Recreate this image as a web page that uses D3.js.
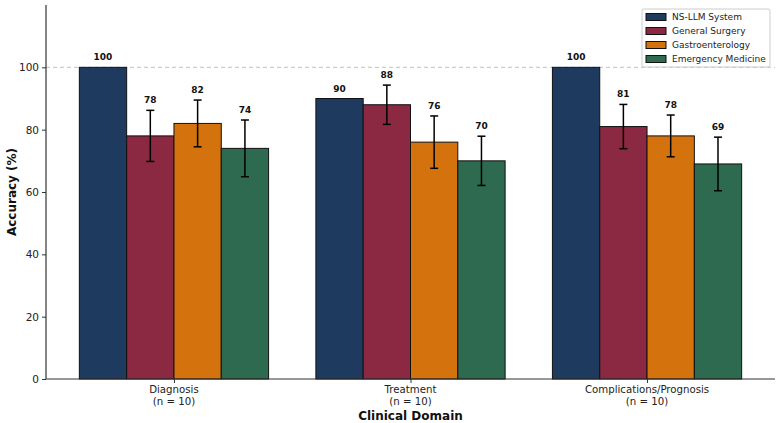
<!DOCTYPE html>
<html><head><meta charset="utf-8">
<script src="https://cdn.jsdelivr.net/npm/d3@7"></script>
<style>body{margin:0;background:#fff}svg{display:block;font-family:"DejaVu Sans",sans-serif}</style>
</head><body><svg id="c" width="779" height="423"></svg>
<script>
const categories = ["Diagnosis", "Treatment", "Complications/Prognosis"];
const categorySub = ["(n = 10)", "(n = 10)", "(n = 10)"];
const series = ["NS-LLM System", "General Surgery", "Gastroenterology", "Emergency Medicine"];
const colors = ["#1f3a5f", "#8b2942", "#d4730e", "#2d6a4f"];
const nsllm = [100, 90, 100];
const generalSurgery = [78, 88, 81];
const gastro = [82, 76, 78];
const emergency = [74, 70, 69];
const nsllmErr = [0, 0, 0];
const gsErr = [8.2, 6.3, 7.1];
const gastroErr = [7.5, 8.4, 6.7];
const emErr = [9.1, 7.9, 8.6];
const yTicks = [0, 20, 40, 60, 80, 100];

(function () {
const values = [nsllm, generalSurgery, gastro, emergency];
const errs = [nsllmErr, gsErr, gastroErr, emErr];

const svg = d3.select("#c");
const mL = 46, mR = 775, mT = 5, mB = 379;
const x = d3.scaleLinear().domain([-0.541, 2.541]).range([mL, mR]);
const y = d3.scaleLinear().domain([0, 120]).range([mB, mT]);
const bw = 0.2;

svg.append("line").attr("x1", mL).attr("x2", mR).attr("y1", y(100)).attr("y2", y(100))
  .attr("stroke", "#b0b0b0").attr("stroke-width", 0.8).attr("stroke-dasharray", "4,3");

const g = svg.append("g");
series.forEach((s, si) => {
  categories.forEach((c, ci) => {
    const xc = ci + (si - 1.5) * bw;
    const v = values[si][ci];
    g.append("rect").attr("x", x(xc - bw / 2)).attr("width", x(xc + bw / 2) - x(xc - bw / 2))
      .attr("y", y(v)).attr("height", y(0) - y(v))
      .attr("fill", colors[si]).attr("stroke", "#111").attr("stroke-width", 1);
    const e = errs[si][ci];
    const px = x(xc);
    if (e > 0) {
      g.append("line").attr("x1", px).attr("x2", px).attr("y1", y(v - e)).attr("y2", y(v + e)).attr("stroke", "#000").attr("stroke-width", 1.5);
      [v - e, v + e].forEach(t => g.append("line").attr("x1", px - 4).attr("x2", px + 4).attr("y1", y(t)).attr("y2", y(t)).attr("stroke", "#000").attr("stroke-width", 1.5));
    }
    g.append("text").attr("x", px).attr("y", y(v + e) - 7).attr("text-anchor", "middle")
      .attr("font-size", 9).attr("font-weight", "bold").attr("fill", "#111").text(v);
  });
});

const ya = svg.append("g").attr("transform", `translate(${mL},0)`)
  .call(d3.axisLeft(y).tickValues(yTicks).tickSize(4).tickPadding(3));
ya.select(".domain").attr("d", `M0,${mT}V${mB}`).attr("stroke", "#333").attr("stroke-width", 1.2);
ya.selectAll("text").attr("font-size", 10.5).attr("fill", "#222").attr("font-family", "DejaVu Sans");
ya.selectAll(".tick line").attr("stroke", "#333");

const xa = svg.append("g").attr("transform", `translate(0,${mB})`)
  .call(d3.axisBottom(x).tickValues([0, 1, 2]).tickSize(4).tickFormat(""));
xa.select(".domain").attr("d", `M${mL},0H${mR}`).attr("stroke", "#333").attr("stroke-width", 1.2);
xa.selectAll(".tick line").attr("stroke", "#333");
categories.forEach((c, i) => {
  const t = svg.append("text").attr("x", x(i)).attr("y", mB + 14).attr("text-anchor", "middle")
    .attr("font-size", 10.2).attr("fill", "#222");
  t.append("tspan").attr("x", x(i)).text(c);
  t.append("tspan").attr("x", x(i)).attr("dy", 12).text(categorySub[i]);
});

svg.append("text").attr("x", x(1)).attr("y", 419.5).attr("text-anchor", "middle")
  .attr("font-size", 12).attr("font-weight", "bold").attr("fill", "#111").text("Clinical Domain");
svg.append("text").attr("transform", `translate(16,${(mT + mB) / 2}) rotate(-90)`).attr("text-anchor", "middle")
  .attr("font-size", 12).attr("font-weight", "bold").attr("fill", "#111").text("Accuracy (%)");

const lg = svg.append("g").attr("transform", "translate(642,9)");
lg.append("rect").attr("width", 128).attr("height", 58).attr("fill", "#fff").attr("stroke", "#ccc").attr("rx", 2);
series.forEach((s, i) => {
  const yy = 8 + i * 14;
  lg.append("rect").attr("x", 4).attr("y", yy - 3.5).attr("width", 20).attr("height", 7)
    .attr("fill", colors[i]).attr("stroke", "#111").attr("stroke-width", 1);
  lg.append("text").attr("x", 30).attr("y", yy + 3.3).attr("font-size", 9).attr("fill", "#222").text(s);
});
})();
</script></body></html>
